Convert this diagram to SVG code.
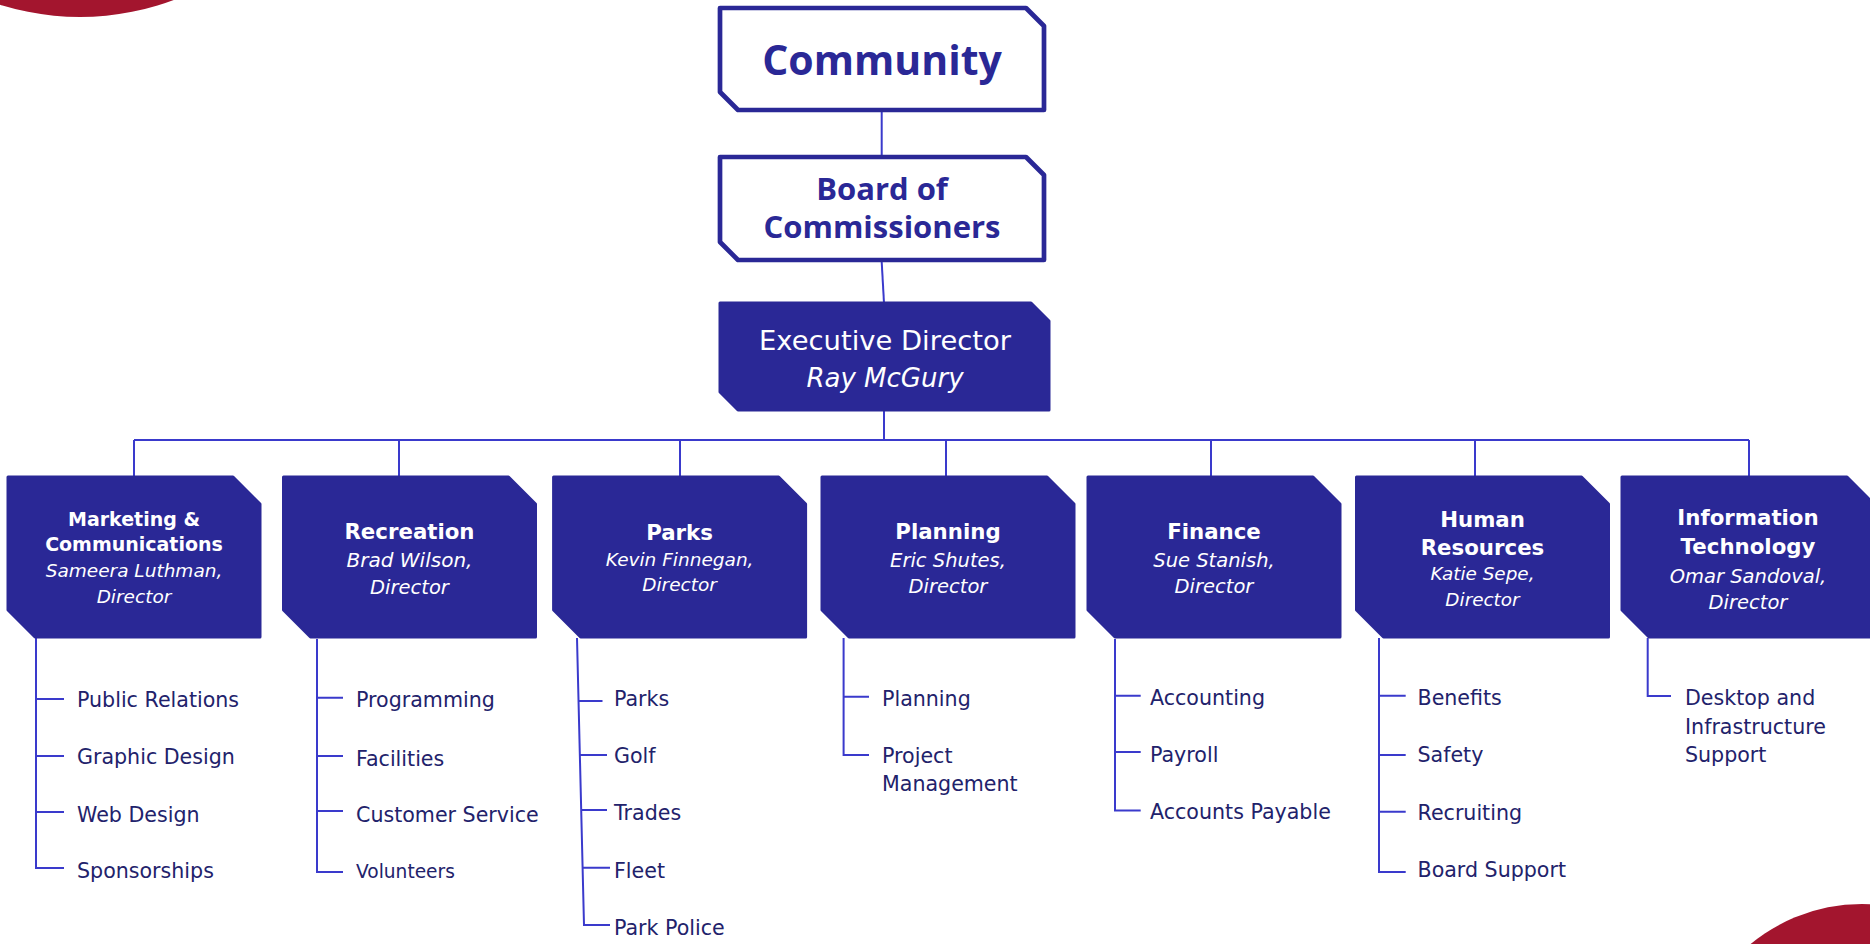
<svg xmlns="http://www.w3.org/2000/svg" width="1870" height="944" viewBox="0 0 1870 944">
<style>
.title{fill:#fff;stroke:#2a2896;stroke-width:4.7;stroke-linejoin:round}
.ttxt{font-family:"Open Sans","Noto Sans",sans-serif;font-weight:700;fill:#2a2896;text-anchor:middle}
.box{fill:#2a2896;stroke:#2a2896;stroke-width:3;stroke-linejoin:round}
.btxt{font-family:"DejaVu Sans",sans-serif;fill:#fff;text-anchor:middle}
.b{font-weight:700;font-size:21.3px}
.i{font-style:italic}
.conn{stroke:#3a3acc;stroke-width:2;fill:none}
.item{font-family:"DejaVu Sans",sans-serif;font-size:20.6px;fill:#22226b}
.small{font-size:18.6px}
.deco{fill:#a3152e}
</style>
<circle class="deco" cx="80" cy="-250" r="267"/>
<circle class="deco" cx="1862" cy="1079" r="175"/>

<g id="connectors">
<path class="conn" d="M881.7 112V155"/>
<path class="conn" d="M881.7 262L884 303"/>
<path class="conn" d="M884 410V440"/>
<path class="conn" d="M134 440H1749"/>
<path class="conn" d="M134 440V477M399 440V477M680 440V477M946 440V477M1211 440V477M1475 440V477M1749 440V477"/>
<path class="conn" d="M36 637V868H64M36 699H64M36 756H64M36 812H64"/>
<path class="conn" d="M317 639V872H343M317 697.7H343M317 756H343M317 811H343"/>
<path class="conn" d="M577 638L584 925H610M578.5 701H602.5M579.9 755H607M581.2 810H607M582.6 867.7H610"/>
<path class="conn" d="M843.6 638V755H869M843.6 696.7H869"/>
<path class="conn" d="M1115 639V810.5H1140.7M1115 695.7H1140.7M1115 752H1140.7"/>
<path class="conn" d="M1379 638V872H1405.7M1379 695.7H1405.7M1379 755H1405.7M1379 811.7H1405.7"/>
<path class="conn" d="M1647.7 638V696H1671"/>
</g>

<g id="community">
<path class="title" d="M720 8H1026L1044 26V110H738L720 92Z"/>
<text class="ttxt" x="882" y="75" font-size="41">Community</text>
</g>
<g id="board">
<path class="title" d="M720 157H1026L1044 175V260H738L720 242Z"/>
<text class="ttxt" x="882" y="200" font-size="31">Board of</text>
<text class="ttxt" x="882" y="238" font-size="31">Commissioners</text>
</g>
<g id="executive">
<path class="box" d="M720 303H1031L1049 321V410H738L720 392Z"/>
<text class="btxt" x="885" y="350" font-size="27.4">Executive Director</text>
<text class="btxt i" x="885" y="387" font-size="26">Ray McGury</text>
</g>

<g id="marketing">
<path class="box" d="M8 477H233L260 504V637H35L8 610Z"/>
<text class="btxt" x="134" y="526" font-size="19" font-weight="700">Marketing &amp;</text>
<text class="btxt" x="134" y="551" font-size="19" font-weight="700">Communications</text>
<text class="btxt i" x="134" y="577" font-size="18.5">Sameera Luthman,</text>
<text class="btxt i" x="134" y="603" font-size="18.5">Director</text>
</g>
<g id="recreation">
<path class="box" d="M283.5 477H508.5L535.5 504V637H310.5L283.5 610Z"/>
<text class="btxt b" x="409.5" y="539">Recreation</text>
<text class="btxt i" x="409.5" y="567" font-size="20">Brad Wilson,</text>
<text class="btxt i" x="409.5" y="594" font-size="19.5">Director</text>
</g>
<g id="parks">
<path class="box" d="M553.6 477H778.6L805.6 504V637H580.6L553.6 610Z"/>
<text class="btxt b" x="679.6" y="540">Parks</text>
<text class="btxt i" x="679.6" y="566" font-size="18.5">Kevin Finnegan,</text>
<text class="btxt i" x="679.6" y="591" font-size="18.5">Director</text>
</g>
<g id="planning">
<path class="box" d="M822 477H1047L1074 504V637H849L822 610Z"/>
<text class="btxt b" x="948" y="538.5">Planning</text>
<text class="btxt i" x="948" y="566.7" font-size="19.5">Eric Shutes,</text>
<text class="btxt i" x="948" y="593" font-size="19.5">Director</text>
</g>
<g id="finance">
<path class="box" d="M1088 477H1313L1340 504V637H1115L1088 610Z"/>
<text class="btxt b" x="1214" y="539">Finance</text>
<text class="btxt i" x="1214" y="567" font-size="19.5">Sue Stanish,</text>
<text class="btxt i" x="1214" y="593" font-size="19.5">Director</text>
</g>
<g id="human-resources">
<path class="box" d="M1356.5 477H1581.5L1608.5 504V637H1383.5L1356.5 610Z"/>
<text class="btxt b" x="1482.5" y="527">Human</text>
<text class="btxt b" x="1482.5" y="555">Resources</text>
<text class="btxt i" x="1482.5" y="580" font-size="18.4">Katie Sepe,</text>
<text class="btxt i" x="1482.5" y="606" font-size="18.4">Director</text>
</g>
<g id="information-technology">
<path class="box" d="M1622 477H1847L1874 504V637H1649L1622 610Z"/>
<text class="btxt b" x="1748" y="524.5">Information</text>
<text class="btxt b" x="1748" y="553.5">Technology</text>
<text class="btxt i" x="1748" y="582.5" font-size="19.5">Omar Sandoval,</text>
<text class="btxt i" x="1748" y="608.5" font-size="19.5">Director</text>
</g>

<g id="marketing-items">
<text class="item" x="77" y="707">Public Relations</text>
<text class="item" x="77" y="764">Graphic Design</text>
<text class="item" x="77" y="821.5">Web Design</text>
<text class="item" x="77" y="878">Sponsorships</text>
</g>
<g id="recreation-items">
<text class="item" x="356" y="707">Programming</text>
<text class="item" x="356" y="765.7">Facilities</text>
<text class="item" x="356" y="822">Customer Service</text>
<text class="item small" x="356" y="878">Volunteers</text>
</g>
<g id="parks-items">
<text class="item" x="614" y="706">Parks</text>
<text class="item" x="614" y="763">Golf</text>
<text class="item" x="614" y="820">Trades</text>
<text class="item" x="614" y="878">Fleet</text>
<text class="item" x="614" y="935">Park Police</text>
</g>
<g id="planning-items">
<text class="item" x="882" y="706">Planning</text>
<text class="item" x="882" y="762.7">Project</text>
<text class="item" x="882" y="791">Management</text>
</g>
<g id="finance-items">
<text class="item" x="1150" y="705">Accounting</text>
<text class="item" x="1150" y="761.7">Payroll</text>
<text class="item" x="1150" y="819">Accounts Payable</text>
</g>
<g id="hr-items">
<text class="item" x="1417.5" y="705">Benefits</text>
<text class="item" x="1417.5" y="762">Safety</text>
<text class="item" x="1417.5" y="820">Recruiting</text>
<text class="item" x="1417.5" y="876.7">Board Support</text>
</g>
<g id="it-items">
<text class="item" x="1685" y="705">Desktop and</text>
<text class="item" x="1685" y="733.5">Infrastructure</text>
<text class="item" x="1685" y="762">Support</text>
</g>
</svg>
